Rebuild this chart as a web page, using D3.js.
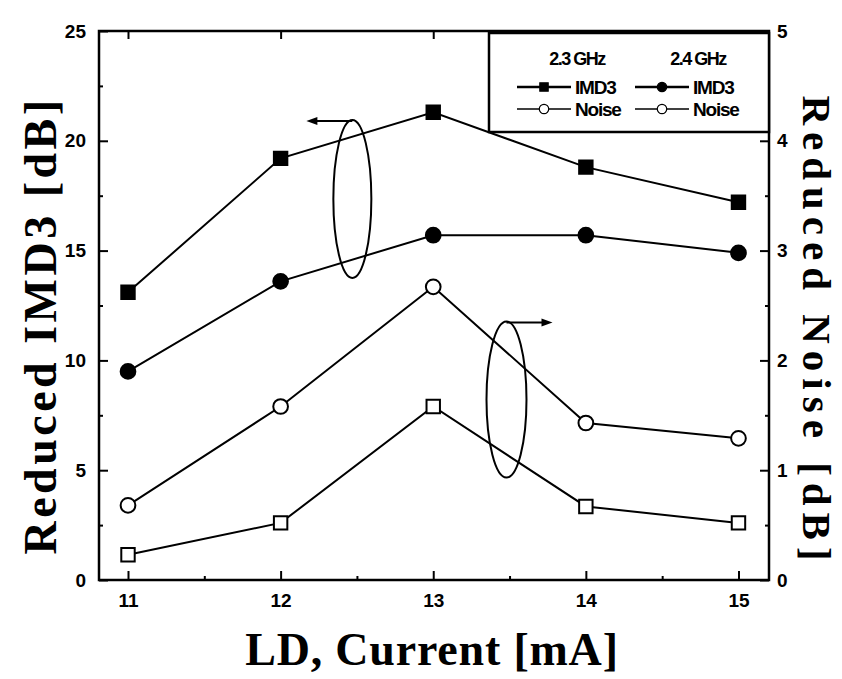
<!DOCTYPE html>
<html>
<head>
<meta charset="utf-8">
<script src="https://cdn.jsdelivr.net/npm/d3@7"></script>
<style>
body { margin: 0; background: #fff; }
</style>
</head>
<body>
<svg width="842" height="679"></svg>
<script>
var width = 842
var height = 679

// data
var current = [11, 12, 13, 14, 15]
var imd3_23 = [13.1, 19.2, 21.3, 18.8, 17.2]
var imd3_24 = [9.5, 13.6, 15.7, 15.7, 14.9]
var noise_23 = [0.23, 0.52, 1.58, 0.67, 0.52]
var noise_24 = [0.68, 1.58, 2.67, 1.43, 1.29]

var xTicks = [11, 12, 13, 14, 15]
var leftTicks = [0, 5, 10, 15, 20, 25]
var rightTicks = [0, 1, 2, 3, 4, 5]

var m = {left: 99, right: 769, top: 31, bottom: 580}

x = d3.scaleLinear()
    .domain([10.81, 15.2])
    .range([m.left, m.right])

yL = d3.scaleLinear()
    .domain([0, 25])
    .range([m.bottom, m.top])

yR = d3.scaleLinear()
    .domain([0, 5])
    .range([m.bottom, m.top])

const svg = d3.select("svg")
const font = "'Liberation Sans', Arial, sans-serif"
const serif = "'Liberation Serif', 'Times New Roman', serif"

// frame
svg.append("rect")
  .attr("x", m.left).attr("y", m.top)
  .attr("width", m.right - m.left).attr("height", m.bottom - m.top)
  .attr("fill", "none").attr("stroke", "black").attr("stroke-width", 2.5)

function styleAxis(g) {
  g.select(".domain").remove()
  g.selectAll(".tick line").attr("stroke", "black").attr("stroke-width", 2)
  g.selectAll(".tick text")
    .attr("font-family", font).attr("font-weight", "bold")
    .attr("font-size", 19).attr("fill", "black")
}

// bottom / top
svg.append("g")
  .attr("transform", `translate(0,${m.bottom})`)
  .call(d3.axisBottom(x).tickValues(xTicks).tickSize(-9).tickPadding(14).tickFormat(d3.format("d")))
  .call(styleAxis)
svg.append("g")
  .attr("transform", `translate(0,${m.bottom})`)
  .call(d3.axisBottom(x).tickValues(d3.range(11.5, 15, 1)).tickSize(-4).tickFormat(""))
  .call(styleAxis)
svg.append("g")
  .attr("transform", `translate(0,${m.top})`)
  .call(d3.axisTop(x).tickValues(xTicks).tickSize(-8).tickFormat(""))
  .call(styleAxis)

// left
svg.append("g")
  .attr("transform", `translate(${m.left},0)`)
  .call(d3.axisLeft(yL).tickValues(leftTicks).tickSize(-9).tickPadding(13).tickFormat(d3.format("d")))
  .call(styleAxis)
svg.append("g")
  .attr("transform", `translate(${m.left},0)`)
  .call(d3.axisLeft(yL).tickValues(d3.range(2.5, 25, 5)).tickSize(-4).tickFormat(""))
  .call(styleAxis)

// right
svg.append("g")
  .attr("transform", `translate(${m.right},0)`)
  .call(d3.axisRight(yR).tickValues(rightTicks).tickSize(-9).tickPadding(8).tickFormat(d3.format("d")))
  .call(styleAxis)
svg.append("g")
  .attr("transform", `translate(${m.right},0)`)
  .call(d3.axisRight(yR).tickValues(d3.range(0.5, 5, 1)).tickSize(-4).tickFormat(""))
  .call(styleAxis)

// axis titles
svg.append("text")
  .attr("transform", `translate(${m.left - 43},${(m.top + m.bottom) / 2 + 20}) rotate(-90)`)
  .attr("text-anchor", "middle")
  .attr("font-family", serif).attr("font-weight", "bold").attr("font-size", 46)
  .attr("letter-spacing", 3.5)
  .text("Reduced IMD3 [dB]")
svg.append("text")
  .attr("transform", `translate(${m.right + 34},${(m.top + m.bottom) / 2 + 26}) rotate(90)`)
  .attr("text-anchor", "middle")
  .attr("font-family", serif).attr("font-weight", "bold").attr("font-size", 41)
  .attr("letter-spacing", 7)
  .text("Reduced Noise [dB]")
svg.append("text")
  .attr("x", (m.left + m.right) / 2 - 2).attr("y", 665)
  .attr("text-anchor", "middle")
  .attr("font-family", serif).attr("font-weight", "bold").attr("font-size", 46)
  .attr("letter-spacing", 0.8)
  .text("LD, Current [mA]")

// series
var series = [
  {vals: imd3_23, y: yL, shape: "square", fill: "black"},
  {vals: imd3_24, y: yL, shape: "circle", fill: "black"},
  {vals: noise_24, y: yR, shape: "circle", fill: "white"},
  {vals: noise_23, y: yR, shape: "square", fill: "white"}
]

var line = d3.line()
series.forEach(s => {
  var pts = current.map((c, i) => [x(c), s.y(s.vals[i])])
  svg.append("path")
    .attr("d", line(pts))
    .attr("fill", "none").attr("stroke", "black").attr("stroke-width", 2)
  svg.append("g").selectAll("path").data(pts).join("path")
    .attr("transform", d => `translate(${d[0]},${d[1]})`)
    .attr("d", d3.symbol(s.shape == "square" ? d3.symbolSquare : d3.symbolCircle, s.shape == "square" ? 180 : 170))
    .attr("fill", s.fill).attr("stroke", "black").attr("stroke-width", 2)
})

// annotation ellipses with arrows
function ellipseArrow(cx, cy, rx, ry, dir) {
  svg.append("ellipse")
    .attr("cx", x(cx)).attr("cy", yL(cy)).attr("rx", rx).attr("ry", ry)
    .attr("fill", "none").attr("stroke", "black").attr("stroke-width", 2)
  var y0 = yL(cy) - ry + 1
  var x0 = x(cx)
  var x1 = x0 + dir * 46
  svg.append("line")
    .attr("x1", x0).attr("y1", y0).attr("x2", x1 - dir * 8).attr("y2", y0)
    .attr("stroke", "black").attr("stroke-width", 2)
  svg.append("path")
    .attr("d", `M${x1},${y0} L${x1 - dir * 11},${y0 - 4} L${x1 - dir * 11},${y0 + 4} Z`)
    .attr("fill", "black")
}
ellipseArrow(12.47, 17.35, 19, 79, -1)
ellipseArrow(13.48, 8.22, 20, 78, 1)

// legend
var legend = svg.append("g")
legend.append("rect")
  .attr("x", 489).attr("y", 33).attr("width", 280).attr("height", 99)
  .attr("fill", "white").attr("stroke", "black").attr("stroke-width", 2.5)

var legCols = [
  {head: "2.3 GHz", x0: 517, hx: 577, items: [["IMD3", "square", "black"], ["Noise", "circle", "white"]]},
  {head: "2.4 GHz", x0: 635, hx: 698, items: [["IMD3", "circle", "black"], ["Noise", "circle", "white"]]}
]
legCols.forEach(c => {
  legend.append("text")
    .attr("x", c.hx).attr("y", 65).attr("text-anchor", "middle")
    .attr("font-family", font).attr("font-weight", "bold").attr("font-size", 18).attr("letter-spacing", -1.5)
    .text(c.head)
  c.items.forEach((it, i) => {
    var yy = 87 + i * 22
    legend.append("line")
      .attr("x1", c.x0).attr("x2", c.x0 + 54).attr("y1", yy).attr("y2", yy)
      .attr("stroke", "black").attr("stroke-width", i == 0 ? 2.5 : 1.5)
    legend.append("path")
      .attr("transform", `translate(${c.x0 + 27},${yy})`)
      .attr("d", d3.symbol(it[1] == "square" ? d3.symbolSquare : d3.symbolCircle, 70))
      .attr("fill", it[2]).attr("stroke", "black").attr("stroke-width", 1.2)
    legend.append("text")
      .attr("x", c.x0 + 58).attr("y", yy + 7)
      .attr("font-family", font).attr("font-weight", "bold").attr("font-size", 19).attr("letter-spacing", -1.2)
      .text(it[0])
  })
})
</script>
</body>
</html>
